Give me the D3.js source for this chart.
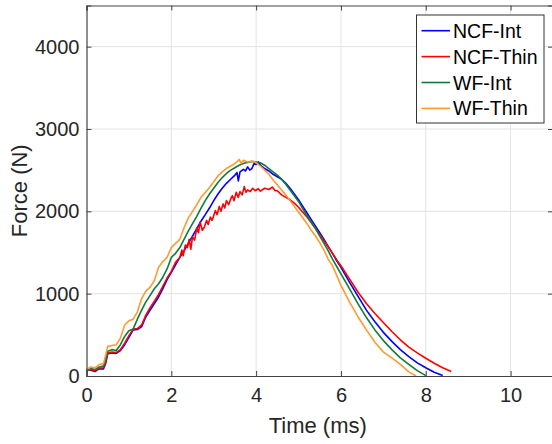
<!DOCTYPE html>
<html lang="en">
<head>
    <meta charset="utf-8">
    <title>Force vs Time</title>
    <script src="https://d3js.org/d3.v7.min.js"></script>
    <style>
        body {
            margin: 0;
            background: #fff;
            font-family: "Liberation Sans", Arial, sans-serif;
        }
        .grid line { stroke: #e3e3e3; stroke-width: 1; }
        .tick text { fill: #262626; }
    </style>
</head>
<body>
    <svg id="chart" width="552" height="444"></svg>

    <script>
        // data: [time (ms), force (N)]
        const ncfInt = [[0, 60], [0.05, 80], [0.1, 70], [0.2, 55], [0.3, 90], [0.4, 85], [0.45, 150], [0.5, 270], [0.6, 280], [0.7, 275], [0.8, 310], [0.9, 380], [1.0, 470], [1.1, 560], [1.2, 565], [1.3, 600], [1.4, 720], [1.5, 800], [1.6, 880], [1.7, 960], [1.8, 1060], [1.9, 1170], [2.0, 1260], [2.1, 1350], [2.2, 1440], [2.3, 1520], [2.4, 1610], [2.5, 1700], [2.6, 1790], [2.7, 1880], [2.8, 1960], [2.9, 2040], [3.0, 2130], [3.1, 2210], [3.2, 2280], [3.3, 2340], [3.4, 2390], [3.5, 2440], [3.55, 2470], [3.58, 2370], [3.62, 2480], [3.7, 2510], [3.75, 2490], [3.8, 2540], [3.85, 2500], [3.9, 2520], [3.95, 2580], [4.0, 2570], [4.05, 2600], [4.1, 2560], [4.2, 2520], [4.3, 2490], [4.4, 2450], [4.5, 2420], [4.6, 2390], [4.7, 2340], [4.8, 2280], [4.9, 2210], [5.0, 2140], [5.1, 2060], [5.2, 1980], [5.3, 1900], [5.4, 1820], [5.5, 1740], [5.6, 1660], [5.7, 1570], [5.8, 1490], [5.9, 1400], [6.0, 1320], [6.2, 1140], [6.4, 970], [6.6, 800], [6.8, 660], [7.0, 530], [7.2, 420], [7.4, 320], [7.6, 235], [7.8, 160], [8.0, 100], [8.2, 45], [8.4, 5]];

        const ncfThin = [[0, 70], [0.1, 80], [0.2, 65], [0.3, 95], [0.4, 100], [0.45, 170], [0.5, 280], [0.6, 290], [0.7, 285], [0.8, 320], [0.9, 400], [1.0, 490], [1.1, 570], [1.2, 575], [1.3, 620], [1.4, 740], [1.5, 830], [1.6, 910], [1.7, 990], [1.8, 1090], [1.9, 1190], [2.0, 1270], [2.1, 1380], [2.2, 1440], [2.25, 1530], [2.28, 1460], [2.33, 1590], [2.38, 1560], [2.42, 1660], [2.46, 1540], [2.5, 1690], [2.55, 1650], [2.6, 1800], [2.64, 1740], [2.68, 1870], [2.73, 1770], [2.78, 1810], [2.83, 1890], [2.87, 1840], [2.92, 1930], [2.96, 1890], [3.0, 1950], [3.04, 2010], [3.08, 1960], [3.13, 2060], [3.17, 2000], [3.22, 2090], [3.26, 2040], [3.3, 2130], [3.35, 2080], [3.4, 2150], [3.44, 2190], [3.48, 2130], [3.53, 2230], [3.58, 2170], [3.62, 2240], [3.67, 2200], [3.72, 2300], [3.76, 2230], [3.8, 2260], [3.86, 2240], [3.92, 2280], [3.98, 2250], [4.05, 2275], [4.1, 2245], [4.2, 2280], [4.3, 2265], [4.38, 2295], [4.45, 2250], [4.5, 2250], [4.6, 2200], [4.7, 2170], [4.8, 2140], [4.9, 2100], [5.0, 2050], [5.1, 1990], [5.2, 1930], [5.3, 1860], [5.4, 1790], [5.5, 1720], [5.6, 1640], [5.7, 1570], [5.8, 1490], [5.9, 1410], [6.0, 1340], [6.2, 1180], [6.4, 1020], [6.6, 880], [6.8, 760], [7.0, 650], [7.2, 540], [7.4, 440], [7.6, 350], [7.8, 280], [8.0, 215], [8.2, 155], [8.4, 100], [8.6, 55]];

        const wfInt = [[0, 60], [0.1, 90], [0.2, 80], [0.3, 110], [0.4, 120], [0.45, 200], [0.5, 300], [0.6, 320], [0.7, 310], [0.8, 380], [0.9, 480], [1.0, 550], [1.1, 570], [1.2, 690], [1.3, 800], [1.4, 900], [1.5, 980], [1.6, 1060], [1.7, 1120], [1.8, 1200], [1.9, 1300], [2.0, 1440], [2.1, 1490], [2.2, 1560], [2.3, 1660], [2.4, 1760], [2.5, 1850], [2.6, 1940], [2.7, 2040], [2.8, 2130], [2.9, 2210], [3.0, 2280], [3.1, 2350], [3.2, 2410], [3.3, 2460], [3.4, 2500], [3.5, 2530], [3.6, 2560], [3.7, 2580], [3.8, 2595], [3.9, 2605], [4.0, 2600], [4.1, 2590], [4.2, 2560], [4.3, 2520], [4.4, 2480], [4.5, 2440], [4.6, 2390], [4.7, 2330], [4.8, 2260], [4.9, 2190], [5.0, 2120], [5.1, 2030], [5.2, 1950], [5.3, 1870], [5.4, 1790], [5.5, 1700], [5.6, 1610], [5.7, 1520], [5.8, 1420], [5.9, 1330], [6.0, 1240], [6.2, 1060], [6.4, 880], [6.6, 710], [6.8, 560], [7.0, 430], [7.2, 320], [7.4, 220], [7.6, 140], [7.8, 65], [8.0, 5]];

        const wfThin = [[0, 80], [0.1, 110], [0.2, 100], [0.3, 140], [0.4, 150], [0.45, 250], [0.5, 360], [0.6, 370], [0.7, 380], [0.8, 460], [0.9, 620], [1.0, 670], [1.1, 690], [1.2, 780], [1.3, 940], [1.4, 1030], [1.5, 1080], [1.6, 1160], [1.7, 1320], [1.8, 1390], [1.9, 1440], [2.0, 1560], [2.1, 1610], [2.2, 1660], [2.3, 1800], [2.4, 1920], [2.5, 2000], [2.6, 2080], [2.7, 2170], [2.8, 2230], [2.9, 2290], [3.0, 2360], [3.1, 2430], [3.2, 2480], [3.3, 2520], [3.4, 2550], [3.5, 2580], [3.6, 2630], [3.65, 2580], [3.7, 2620], [3.8, 2600], [3.9, 2610], [4.0, 2590], [4.1, 2550], [4.2, 2500], [4.3, 2450], [4.4, 2380], [4.5, 2320], [4.6, 2260], [4.7, 2200], [4.8, 2130], [4.9, 2060], [5.0, 1990], [5.1, 1920], [5.2, 1850], [5.3, 1770], [5.4, 1700], [5.5, 1620], [5.6, 1530], [5.7, 1420], [5.8, 1340], [5.9, 1220], [6.0, 1100], [6.2, 900], [6.4, 720], [6.6, 560], [6.8, 410], [7.0, 290], [7.2, 220], [7.4, 140], [7.6, 50], [7.77, 0]];

        const seriesNames = ["NCF-Int", "NCF-Thin", "WF-Int", "WF-Thin"];
        const seriesColors = ["#0000ff", "#ff0000", "#117a3b", "#ff9a33"];
        const xTicks = [0, 2, 4, 6, 8, 10];
        const yTicks = [0, 1000, 2000, 3000, 4000];

        const series = [ncfInt, ncfThin, wfInt, wfThin].map((pts, i) => ({
            name: seriesNames[i],
            color: seriesColors[i],
            points: pts
        }));

        const svg = d3.select("#chart");
        const plotL = 86.5, plotR = 553, plotT = 5.5, plotB = 376;

        const x = d3.scaleLinear().domain([0, 11]).range([plotL, plotR]);
        const y = d3.scaleLinear().domain([0, 4500]).range([plotB, plotT]);

        // grid
        const grid = svg.append("g").attr("class", "grid");
        grid.selectAll(".gx").data(xTicks.slice(1)).join("line")
            .attr("x1", d => x(d)).attr("x2", d => x(d))
            .attr("y1", plotT).attr("y2", plotB);
        grid.selectAll(".gy").data(yTicks.slice(1)).join("line")
            .attr("x1", plotL).attr("x2", plotR)
            .attr("y1", d => y(d)).attr("y2", d => y(d));

        // curves
        const line = d3.line().x(d => x(d[0])).y(d => y(d[1]));
        svg.append("g").selectAll("path").data(series).join("path")
            .attr("d", d => line(d.points))
            .attr("fill", "none")
            .attr("stroke", d => d.color)
            .attr("stroke-width", 1.6)
            .attr("stroke-linejoin", "round");

        // axes, ticks pointing inward
        const fmt = d3.format("d");
        svg.append("g").attr("transform", `translate(0,${plotB})`)
            .call(d3.axisBottom(x).tickValues(xTicks).tickFormat(fmt).tickSize(-5).tickPadding(12));
        svg.append("g").attr("transform", `translate(${plotL},0)`)
            .call(d3.axisLeft(y).tickValues(yTicks).tickFormat(fmt).tickSize(-5).tickPadding(7));
        svg.append("g").attr("transform", `translate(0,${plotT})`)
            .call(d3.axisTop(x).tickValues(xTicks).tickSize(-5).tickFormat(""));
        svg.append("g").attr("transform", `translate(${plotR},0)`)
            .call(d3.axisRight(y).tickValues(yTicks).tickSize(-5).tickFormat(""));

        svg.selectAll(".domain").attr("stroke", "#444").attr("stroke-width", 1.2);
        svg.selectAll(".tick line").attr("stroke", "#444");
        svg.selectAll(".tick text")
            .attr("font-family", "Liberation Sans, Arial, sans-serif")
            .attr("font-size", "20px");

        // axis labels
        svg.append("text")
            .attr("x", (plotL + plotR) / 2 - 2).attr("y", 433)
            .attr("text-anchor", "middle")
            .attr("font-size", "22px").attr("fill", "#262626")
            .text("Time (ms)");
        svg.append("text")
            .attr("transform", `translate(27,${(plotT + plotB) / 2}) rotate(-90)`)
            .attr("text-anchor", "middle")
            .attr("font-size", "22px").attr("fill", "#262626")
            .text("Force (N)");

        // legend
        const lg = svg.append("g").attr("transform", "translate(416.5,15)");
        lg.append("rect").attr("width", 127.5).attr("height", 108)
            .attr("fill", "#fff").attr("stroke", "#333").attr("stroke-width", 1);
        const row = lg.selectAll(".row").data(series).join("g")
            .attr("transform", (d, i) => `translate(0,${15.7 + i * 25.9})`);
        row.append("line").attr("x1", 5).attr("x2", 33.5)
            .attr("stroke", d => d.color).attr("stroke-width", 1.6);
        row.append("text").attr("x", 36.5).attr("y", 7)
            .attr("font-size", "19.5px").attr("fill", "#000")
            .text(d => d.name);
    </script>
</body>
</html>
